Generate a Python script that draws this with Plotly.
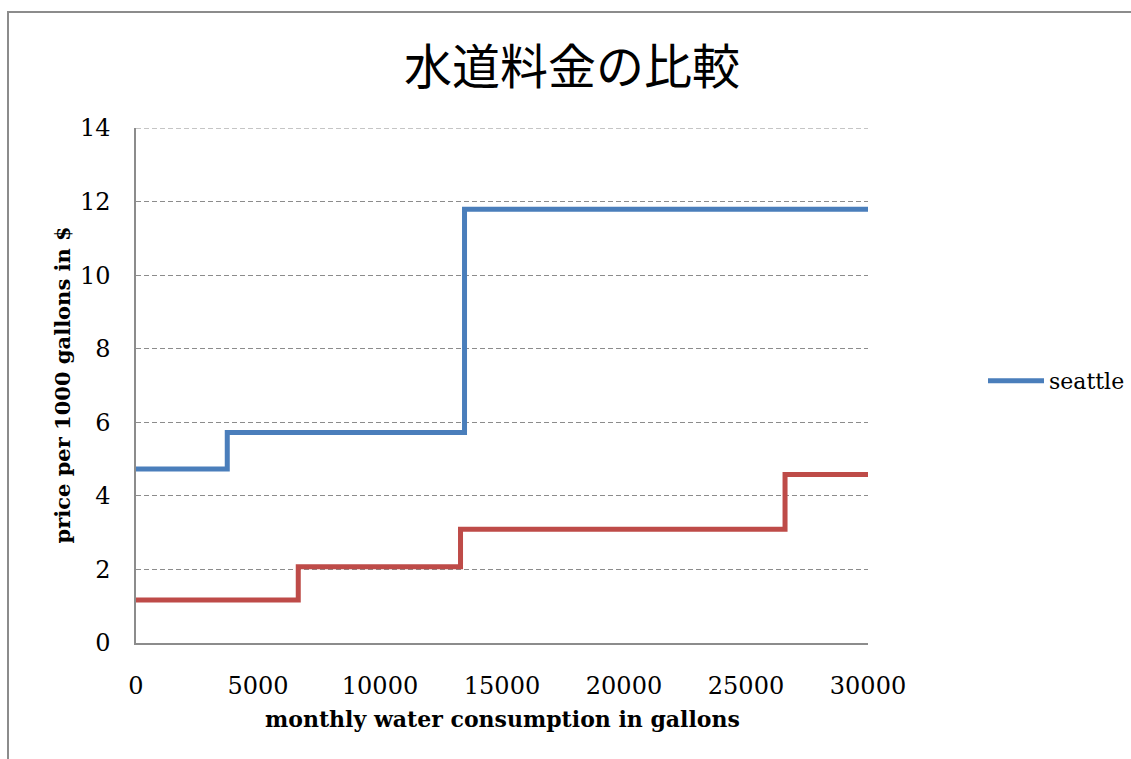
import plotly.graph_objects as go

# Tiered water prices (USD per 1000 gallons) by monthly consumption (gallons)
seattle_gallons = [0, 3740, 13464, 30000]
seattle_price = [4.73, 5.72, 11.79, 11.79]

other_gallons = [0, 6650, 13300, 26600, 30000]
other_price = [1.17, 2.07, 3.09, 4.58, 4.58]

y_ticks = [0, 2, 4, 6, 8, 10, 12, 14]
x_ticks = [0, 5000, 10000, 15000, 20000, 25000, 30000]

W, H = 1131, 759
L, R, T, B = 136, 263, 128, 116
pw, ph = W - L - R, H - T - B

BLUE = "#4A7EBB"
RED = "#BE4B48"
GRID = "#8C8C8C"
SERIF = "DejaVu Serif, Liberation Serif, serif"


def px_x(p):
    return (p - L) / pw


def px_y(p):
    return (H - B - p) / ph


fig = go.Figure()

fig.add_trace(go.Scatter(
    x=other_gallons, y=other_price, mode="lines", name="tokyo",
    line=dict(color=RED, width=5, shape="hv"), showlegend=False,
))
fig.add_trace(go.Scatter(
    x=seattle_gallons, y=seattle_price, mode="lines", name="seattle",
    line=dict(color=BLUE, width=5, shape="hv"),
))

fig.update_layout(
    width=W, height=H,
    margin=dict(l=L, r=R, t=T, b=B, pad=0),
    paper_bgcolor="white", plot_bgcolor="white",
    font=dict(family=SERIF, size=24, color="black"),
    title=dict(
        text="水道料金の比較",
        font=dict(family="Noto Sans CJK JP", size=48, color="black"),
        x=572 / W, xref="container", xanchor="center",
        y=1 - 67 / H, yref="container", yanchor="middle",
    ),
    legend=dict(
        xref="container", yref="container",
        x=983 / W, y=1 - 381 / H, xanchor="left", yanchor="middle",
        font=dict(family=SERIF, size=22, color="black"),
        itemwidth=56, bgcolor="rgba(0,0,0,0)",
    ),
    xaxis=dict(
        range=[0, 30000], tickvals=x_ticks, ticktext=[str(v) for v in x_ticks],
        showgrid=False, zeroline=False, showline=True,
        linecolor=GRID, linewidth=1.5, ticks="", ticklabelstandoff=20,
        tickfont=dict(family=SERIF, size=24),
    ),
    yaxis=dict(
        range=[0, 14], tickvals=y_ticks, ticktext=[str(v) for v in y_ticks],
        showgrid=True, gridcolor=GRID, gridwidth=1, griddash="5px,3px",
        zeroline=False, showline=True, linecolor=GRID, linewidth=1.5,
        ticks="", ticklabelstandoff=19,
        tickfont=dict(family=SERIF, size=24),
    ),
    shapes=[
        # outer chart frame
        dict(type="rect", xref="paper", yref="paper",
             x0=px_x(8), x1=px_x(W + 20), y0=px_y(H + 20), y1=px_y(12),
             line=dict(color="#8C8C8C", width=2), layer="below"),
        # top gridline at the upper edge of the y range
        dict(type="line", xref="paper", yref="y",
             x0=0, x1=1, y0=y_ticks[-1], y1=y_ticks[-1],
             line=dict(color=GRID, width=1, dash="5px,3px"), layer="below"),
    ],
    annotations=[
        dict(text="<b>monthly water consumption in gallons</b>",
             xref="paper", yref="paper", x=0.5, y=px_y(719),
             xanchor="center", yanchor="middle", showarrow=False,
             font=dict(family=SERIF, size=22, color="black")),
        dict(text="<b>price per 1000 gallons in $</b>",
             xref="paper", yref="paper", x=px_x(62), y=0.5,
             xanchor="center", yanchor="middle", showarrow=False, textangle=-90,
             font=dict(family=SERIF, size=21, color="black")),
    ],
)

fig.write_html("out.html")
